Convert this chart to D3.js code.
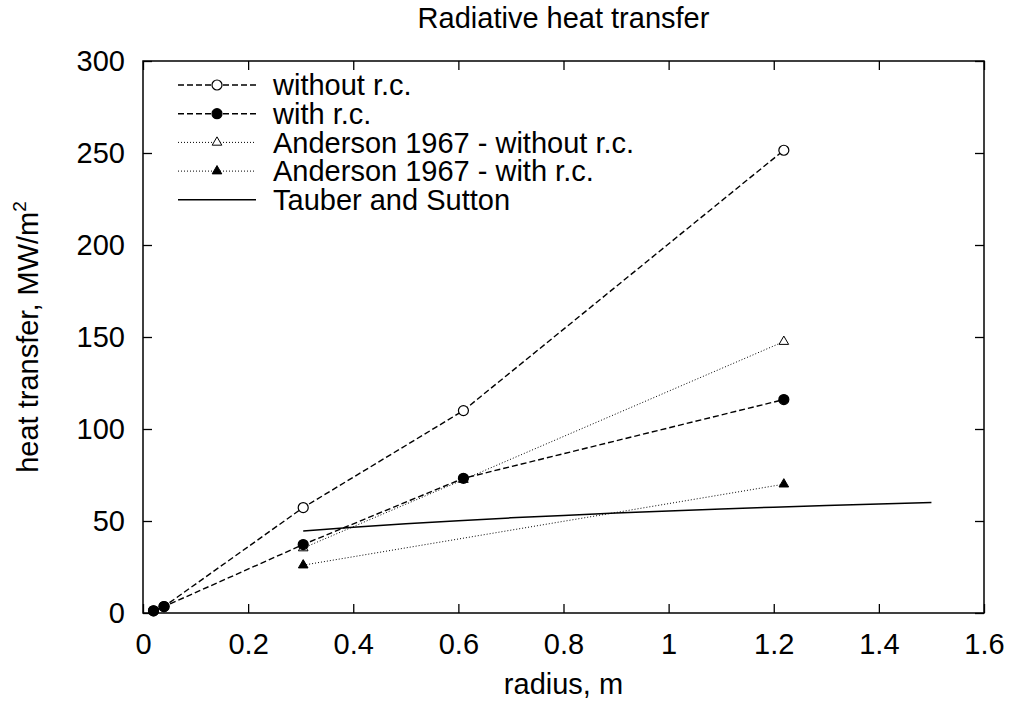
<!DOCTYPE html>
<html>
<head>
<meta charset="utf-8">
<script src="https://cdn.jsdelivr.net/npm/d3@7"></script>
<style>
  body { margin: 0; background: #fff; }
  text { font-family: "Liberation Sans", Arial, sans-serif; fill: #000; }
</style>
</head>
<body>
<script>
// data
const xTicks = [0, 0.2, 0.4, 0.6, 0.8, 1, 1.2, 1.4, 1.6];
const yTicks = [0, 50, 100, 150, 200, 250, 300];

const withoutRC = [[0.02, 1.2], [0.04, 3.5], [0.3048, 57.3], [0.6096, 110], [1.2192, 251.5]];
const withRC = [[0.02, 1.2], [0.04, 3.5], [0.3048, 37.2], [0.6096, 73.2], [1.2192, 116]];
const andersonWithout = [[0.3048, 35.3], [0.6096, 72.5], [1.2192, 147.5]];
const andersonWith = [[0.3048, 26], [1.2192, 70]];
const tauberSutton = [[0.3048, 44.5], [0.4, 46.6], [0.5, 48.5], [0.6, 50.2], [0.7, 51.7],
                      [0.8, 53], [0.9, 54.3], [1.0, 55.4], [1.1, 56.5], [1.2, 57.5],
                      [1.3, 58.4], [1.4, 59.2], [1.5, 60]];

const margin = {top: 61, right: 38, bottom: 92, left: 143}
  , width = 1022 - margin.left - margin.right
  , height = 705 - margin.top - margin.bottom;

const xScale = d3.scaleLinear().domain([0, 1.6]).range([0, width]);
const yScale = d3.scaleLinear().domain([0, 300]).range([height, 0]);

const svg = d3.select('body').append('svg')
  .attr('width', 1022)
  .attr('height', 705);

const g = svg.append('g')
  .attr('transform', 'translate(' + margin.left + ',' + margin.top + ')');

const fmt = d3.format('~g');
const fs = 29;

// axes: ticks point inward, mirrored on top and right
g.append('g')
  .attr('transform', 'translate(0,' + height + ')')
  .call(d3.axisBottom(xScale).tickValues(xTicks).tickFormat(fmt).tickSizeInner(-9).tickSizeOuter(0).tickPadding(20))
  .call(a => a.select('.domain').remove());
g.append('g')
  .call(d3.axisTop(xScale).tickValues(xTicks).tickFormat('').tickSizeInner(-9).tickSizeOuter(0))
  .call(a => a.select('.domain').remove());
g.append('g')
  .call(d3.axisLeft(yScale).tickValues(yTicks).tickFormat(fmt).tickSizeInner(-9).tickSizeOuter(0).tickPadding(18))
  .call(a => a.select('.domain').remove());
g.append('g')
  .attr('transform', 'translate(' + width + ',0)')
  .call(d3.axisRight(yScale).tickValues(yTicks).tickFormat('').tickSizeInner(-9).tickSizeOuter(0))
  .call(a => a.select('.domain').remove());

g.selectAll('.tick line').attr('stroke', '#000').attr('stroke-width', 1.3);
g.selectAll('.tick text').attr('font-size', fs).attr('font-family', '"Liberation Sans", Arial, sans-serif');

g.append('rect')
  .attr('width', width).attr('height', height)
  .attr('fill', 'none').attr('stroke', '#000').attr('stroke-width', 1.5);

const line = d3.line()
  .x(d => xScale(d[0]))
  .y(d => yScale(d[1]));

const series = [
  {name: 'without r.c.', data: withoutRC, dash: '6,3', w: 1.4, marker: 'circle', fill: 'none'},
  {name: 'with r.c.', data: withRC, dash: '6,3', w: 1.4, marker: 'circle', fill: '#000'},
  {name: 'Anderson 1967 - without r.c.', data: andersonWithout, dash: '1,2', w: 1, marker: 'triangle', fill: 'none'},
  {name: 'Anderson 1967 - with r.c.', data: andersonWith, dash: '1,2', w: 1, marker: 'triangle', fill: '#000'},
  {name: 'Tauber and Sutton', data: tauberSutton, dash: null, w: 1.5, marker: null, fill: null}
];

function drawMarker(sel, s, x, y) {
  if (s.marker === 'circle') {
    sel.append('circle').attr('cx', x).attr('cy', y).attr('r', 5)
      .attr('fill', s.fill === 'none' ? '#fff' : '#000').attr('stroke', '#000').attr('stroke-width', 1.2);
  } else if (s.marker === 'triangle') {
    sel.append('path')
      .attr('d', d3.symbol().type(d3.symbolTriangle).size(40)())
      .attr('transform', 'translate(' + x + ',' + y + ')')
      .attr('fill', s.fill === 'none' ? '#fff' : '#000').attr('stroke', '#000').attr('stroke-width', 1);
  }
}

series.forEach(s => {
  g.append('path')
    .datum(s.data)
    .attr('fill', 'none')
    .attr('stroke', '#000')
    .attr('stroke-width', s.w)
    .attr('stroke-dasharray', s.dash)
    .attr('d', line);
});
// markers on top of the lines, open ones first so filled ones sit above
[series[0], series[2], series[3], series[1]].forEach(s => {
  s.data.forEach(d => drawMarker(g, s, xScale(d[0]), yScale(d[1])));
});

// legend
const legend = svg.append('g');
series.forEach((s, i) => {
  const y = 85 + i * 28.7;
  legend.append('line')
    .attr('x1', 178).attr('x2', 256).attr('y1', y).attr('y2', y)
    .attr('stroke', '#000').attr('stroke-width', s.w).attr('stroke-dasharray', s.dash);
  drawMarker(legend, s, 217, y);
  legend.append('text')
    .attr('x', 273).attr('y', y).attr('dy', '0.35em')
    .attr('font-size', fs)
    .text(s.name);
});

// title and labels
svg.append('text')
  .attr('x', margin.left + width / 2).attr('y', 28)
  .attr('text-anchor', 'middle').attr('font-size', fs)
  .text('Radiative heat transfer');

svg.append('text')
  .attr('x', margin.left + width / 2).attr('y', 694)
  .attr('text-anchor', 'middle').attr('font-size', fs)
  .text('radius, m');

const yl = svg.append('text')
  .attr('transform', 'translate(38,' + (margin.top + height / 2) + ') rotate(-90)')
  .attr('text-anchor', 'middle').attr('font-size', fs);
yl.append('tspan').text('heat transfer, MW/m');
yl.append('tspan').attr('font-size', 19).attr('dy', -12).text('2');
</script>
</body>
</html>
